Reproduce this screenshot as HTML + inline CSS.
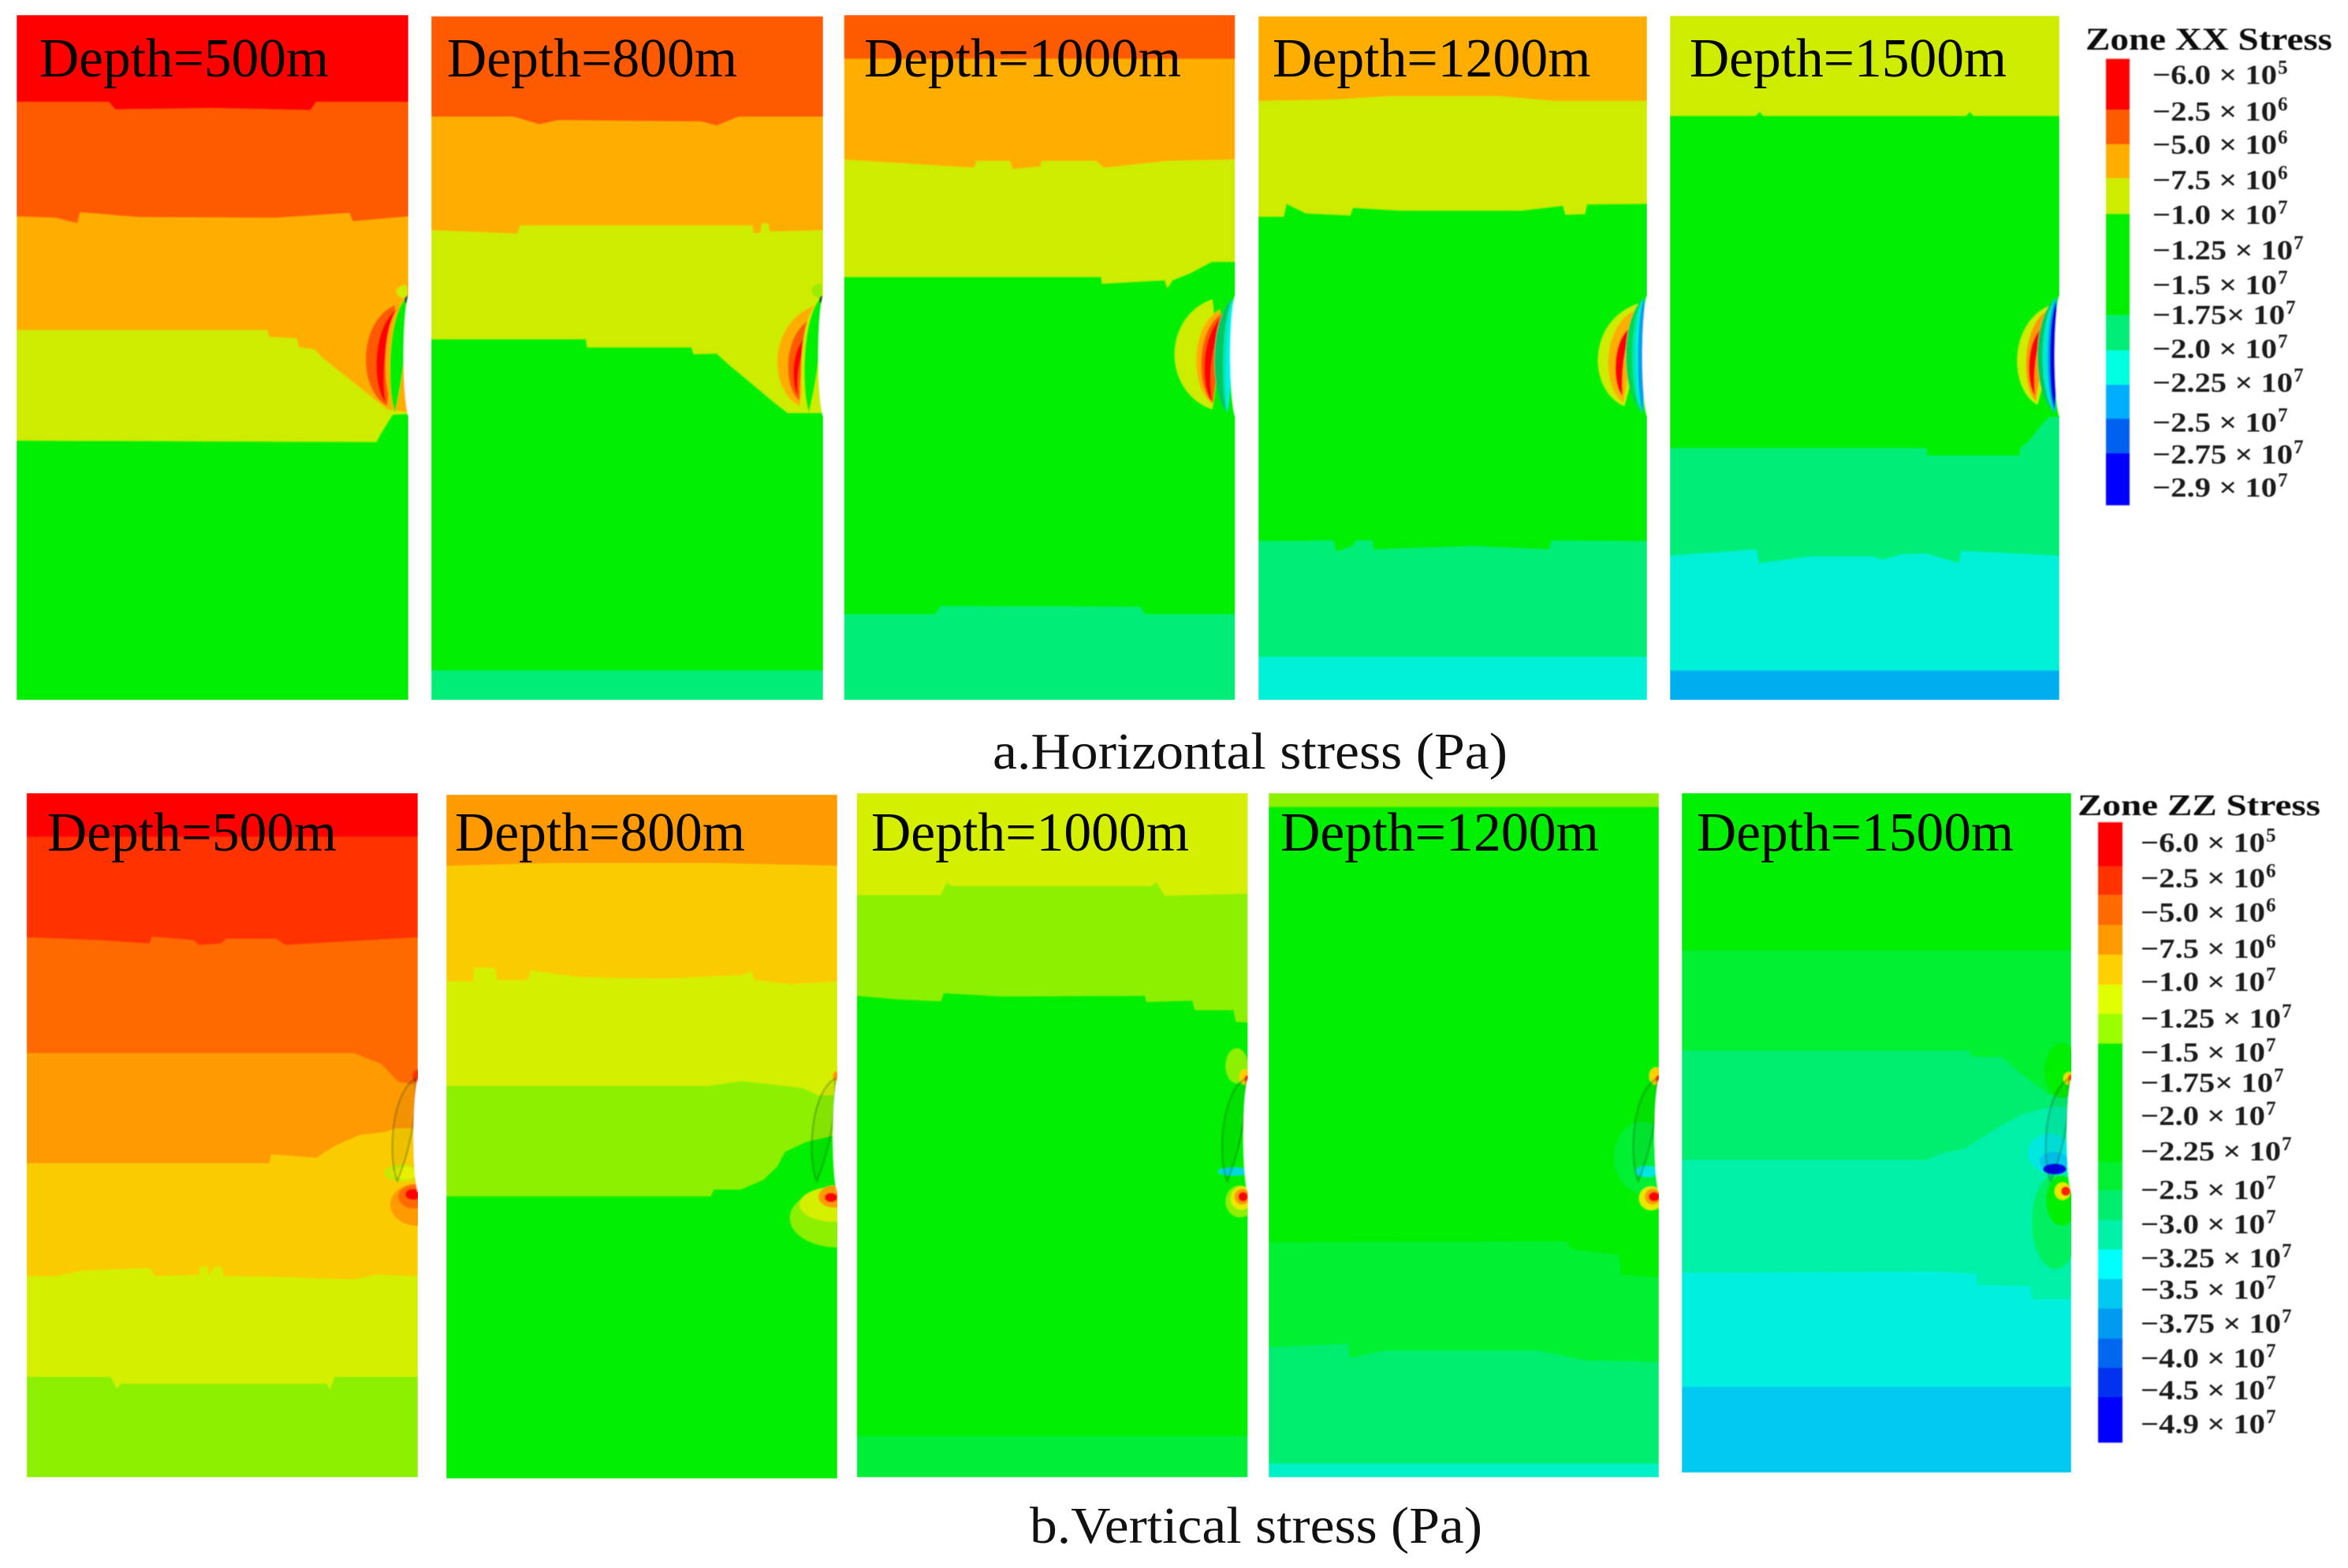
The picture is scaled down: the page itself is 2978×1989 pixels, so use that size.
<!DOCTYPE html>
<html lang="en">
<head>
<meta charset="utf-8">
<title>Horizontal and vertical stress contours by depth</title>
<style>
html,body{margin:0;padding:0;background:#fff;}
svg{display:block;font-family:"Liberation Serif",serif;}
</style>
</head>
<body>
<svg id="figure" xmlns="http://www.w3.org/2000/svg" width="2978" height="1989" viewBox="0 0 2978 1989">
<defs>
<filter id="soft" x="-2%" y="-2%" width="104%" height="104%"><feGaussianBlur stdDeviation="0.9"/></filter>
<filter id="softText" x="-2%" y="-10%" width="104%" height="120%"><feGaussianBlur stdDeviation="0.45"/></filter>
</defs>
<text x="1259" y="975" font-size="66" textLength="653" lengthAdjust="spacingAndGlyphs" fill="#111">a.Horizontal stress (Pa)</text>
<text x="1306" y="1957" font-size="66" textLength="574" lengthAdjust="spacingAndGlyphs" fill="#111">b.Vertical stress (Pa)</text>
</svg>
<script>
// ---------- Colour scales ----------
const xxColors = ['#ff0000','#ff5a00','#ffae00','#cdec00','#00ee00','#00ee00','#00ee00','#00ee78','#00f0d8','#00aeef','#0060f0','#0000ff'];
const zzColors = ['#ff0000','#ff3300','#ff6a00','#ff9a00','#facc00','#d4ef00','#8cf000','#00ee00','#00ee00','#00ee00','#00ee00','#00f030','#00ee70','#00f0a8','#00f0e8','#00c8f0','#009af0','#0068f0','#0030f0','#0000ff'];

// ---------- Legend tick labels ----------
const xxTickText = ['−6.0 × 10','−2.5 × 10','−5.0 × 10','−7.5 × 10','−1.0 × 10','−1.25 × 10','−1.5 × 10','−1.75× 10','−2.0 × 10','−2.25 × 10','−2.5 × 10','−2.75 × 10','−2.9 × 10'];
const xxTickExp = ['5','6','6','6','7','7','7','7','7','7','7','7','7'];
const zzTickText = ['−6.0 × 10','−2.5 × 10','−5.0 × 10','−7.5 × 10','−1.0 × 10','−1.25 × 10','−1.5 × 10','−1.75× 10','−2.0 × 10','−2.25 × 10','−2.5 × 10','−3.0 × 10','−3.25 × 10','−3.5 × 10','−3.75 × 10','−4.0 × 10','−4.5 × 10','−4.9 × 10'];
const zzTickExp = ['5','6','6','6','7','7','7','7','7','7','7','7','7','7','7','7','7','7'];

// ---------- Depth categories ----------
const depthLabels = ['Depth=500m','Depth=800m','Depth=1000m','Depth=1200m','Depth=1500m'];

// ---------- Stress bands, top to bottom, per depth ----------
const xxBands500 = ['#ff0000','#ff5a00','#ffae00','#cdec00','#00ee00'];
const xxBands800 = ['#ff5a00','#ffae00','#cdec00','#00ee00','#00ee78'];
const xxBands1000 = ['#ff5a00','#ffae00','#cdec00','#00ee00','#00ee78'];
const xxBands1200 = ['#ffae00','#cdec00','#00ee00','#00ee78','#00f0d8'];
const xxBands1500 = ['#cdec00','#00ee00','#00ee78','#00f0d8','#00aeef'];
const zzBands500 = ['#ff0000','#ff3300','#ff6a00','#ff9a00','#facc00','#d4ef00','#8cf000'];
const zzBands800 = ['#ff9a00','#facc00','#d4ef00','#8cf000','#00ee00'];
const zzBands1000 = ['#d4ef00','#8cf000','#00ee00','#00ee38'];
const zzBands1200 = ['#8cf000','#00ee00','#00f030','#00ee70','#00f0c8'];
const zzBands1500 = ['#00ee00','#00f030','#00ee70','#00f0a8','#00f0e0','#00c8f0'];

// ---------- Contours as [width %, depth %] between adjacent bands ----------
const xxContours500 = [
 [[0,12.7],[23.5,12.7],[25.2,13.8],[50,13.6],[75,13.9],[76.5,12.7],[100,12.7]],
 [[0,29.4],[10,29.6],[15.5,30.4],[16.2,28.8],[31,29.5],[66,29.6],[85,28.9],[85.8,30.1],[100,29.4]],
 [[0,46],[64,46],[64.4,47],[71.5,47.2],[72,48.5],[76,48.8],[78,50],[94.6,57.6],[100,58]],
 [[0,62.1],[91.8,62.3],[93,61],[96,58.3],[100,58.2]]
];
const xxContours800 = [
 [[0,14.7],[21,14.7],[27.6,15.8],[32.5,15.2],[69,15.4],[72.8,16],[78.4,14.7],[100,14.7]],
 [[0,31.3],[22,31.8],[22.6,30.6],[82,30.6],[82.2,31.7],[84,31.7],[84.4,30.3],[86,30.3],[86.4,31.5],[100,31.3]],
 [[0,47.2],[39.5,47.2],[39.8,48.4],[66.4,48.4],[67,49.4],[72.8,49.3],[76.3,51.1],[82,53.8],[87.6,56.5],[91,58],[100,58]],
 [[0,95.7],[100,95.7]]
];
const xxContours1000 = [
 [[0,6.4],[100,6.4]],
 [[0,21.1],[33.2,22.3],[33.9,21.3],[42.4,21.3],[43.1,22.5],[50.2,22.1],[50.5,21.3],[64.4,21.3],[66.5,22.3],[82.7,21.3],[100,21.1]],
 [[0,38.2],[65.8,38.2],[66,39.2],[82,38.7],[82.7,39.8],[84,38.7],[88.4,37.7],[94,36],[100,36]],
 [[0,87.5],[23.3,87.5],[24.7,86.3],[75.7,86.4],[77,87.5],[100,87.5]]
];
const xxContours1200 = [
 [[0,12.4],[19,12.2],[33.5,11.7],[62,11.7],[76,12.4],[100,12.4]],
 [[0,29.3],[6.5,29.3],[7.2,27.4],[12.2,28.8],[23.6,29.1],[24.3,28],[36.4,28.4],[67.7,28.4],[78.4,27.7],[79,29],[84,28.9],[84.5,27.5],[100,27.4]],
 [[0,76.8],[19.3,76.7],[20,78.3],[24.3,77.5],[25,76.7],[29.3,76.7],[29.6,78],[55,77.5],[74.8,78],[75.5,76.7],[100,76.8]],
 [[0,93.7],[100,93.7]]
];
const xxContours1500 = [
 [[0,14.6],[22,14.6],[23,14],[24,14.6],[76,14.6],[77,14],[78,14.6],[100,14.6]],
 [[0,63.2],[65.9,63.2],[66,64.3],[89.8,64.3],[90,63.2],[92.3,62.1],[95.2,60],[97.3,58.7],[100,58.7]],
 [[0,78.9],[22.2,78],[22.9,80],[36.5,79],[51.6,79],[54.5,79.5],[59.6,78.7],[65.9,78.6],[74.2,80],[74.7,78.2],[100,78.9]],
 [[0,95.7],[100,95.7]]
];
const zzContours500 = [
 [[0,6.4],[100,6.4]],
 [[0,21.1],[18.6,21.5],[31.4,22],[32,21],[42.7,21.5],[44,22.2],[49.7,22],[51,21.3],[63.8,21.3],[66.2,22.2],[78,21.8],[100,21.1]],
 [[0,38],[83.6,38],[90.7,39.6],[95,42.2],[99,42.6],[100,41]],
 [[0,54.1],[62,54.1],[62.5,52.8],[74,53.3],[79,51.5],[85,50],[92,49.5],[94,49],[100,49]],
 [[0,70.6],[7.3,70.6],[14.4,69.8],[31.4,69.4],[32.8,70.6],[44.1,70.4],[44.4,69.2],[46.2,69.2],[46.6,70.6],[48,69.2],[49.7,69.2],[50.4,70.6],[63.8,70.7],[83.6,71.1],[89.2,70.4],[100,70.6]],
 [[0,85.3],[21.5,85.3],[23,87],[24.3,86.3],[76.6,86.3],[77.6,87.1],[78.7,85.3],[100,85.3]]
];
const zzContours800 = [
 [[0,10.4],[27,10],[69,10],[100,10.4]],
 [[0,27.3],[6.8,27.3],[7.2,25.3],[12.4,25.3],[13,27.1],[20.9,27.1],[21.6,25.7],[34.3,26.7],[55.5,26.9],[75.3,26.4],[78,25.8],[78.8,27.1],[88,27.7],[100,27.3]],
 [[0,42.6],[67,42.6],[75.3,41.9],[84,42.4],[91.1,42.9],[95.3,44],[100,43.9]],
 [[0,58.7],[67.6,58.7],[68.4,57.7],[75.3,57.7],[81,56.3],[84.5,54.4],[86.6,52.2],[92.2,50.7],[100,49.7]]
];
const zzContours1000 = [
 [[0,14.9],[21.5,14.9],[23,13],[24.3,13.6],[75.2,13.6],[76.6,13],[78.8,15],[100,14.7]],
 [[0,29.6],[10.2,30.1],[21.5,30.4],[22.2,29.2],[37,29.7],[73.8,29.6],[74,30.5],[85.8,30.3],[86.5,31.7],[96.4,31.7],[97,33.4],[100,33.5]],
 [[0,94],[100,94]]
];
const zzContours1200 = [
 [[0,2],[100,2]],
 [[0,65.7],[76,65.5],[78,66.7],[89.7,67.5],[90.4,70.4],[100,70.8]],
 [[0,81],[20.3,80.5],[20.7,82.6],[29.5,81.5],[69.5,81.5],[80.9,82.9],[100,83.2]],
 [[0,98],[100,98]]
];
const zzContours1500 = [
 [[0,23.2],[100,23.2]],
 [[0,37.9],[73.9,37.9],[74.2,38.8],[82.2,38.9],[86.6,41.1],[94.5,44.5],[100,44.5]],
 [[0,54],[62.7,54],[66.4,53.1],[72.8,52.3],[80,49.6],[87.3,47.3],[94.5,46.2],[100,46.2]],
 [[0,70.6],[12,70.6],[65.6,70.4],[75.7,70.8],[75.8,72.4],[89.5,72.6],[89.8,74.5],[100,74.5]],
 [[0,87.4],[100,87.4]]
];

// ---------- Crack-tip stress crescents: colour, top dx, top dy, bottom dx, bottom dy, outer bulge, inner bulge ----------
const xxCrack500 = [
 ['#cdec00',3,-12,3,6,28,0],
 ['#ff5a00',17,14,27,142,86,20],
 ['#ff0000',11,17,29,137,60,38],
 ['#ffae00',8,12,20,140,44,24],
 ['#00ee00',3,5,17,150,36,0],
 ['#005a30',1,2,3,12,8,0]
];
const xxCrack800 = [
 ['#9cec00',3,-14,3,6,26,0],
 ['#ffae00',9,14,30,142,96,20],
 ['#ff5a00',12,30,30,135,67,30],
 ['#ff0000',16,50,32,128,50,36],
 ['#cdec00',8,12,24,142,38,24],
 ['#00ee00',3,5,18,150,36,0],
 ['#005a30',1,2,3,12,8,0]
];
const xxCrack1000 = [
 ['#cdec00',29,7,29,146,124,20],
 ['#ffae00',19,20,28,140,75,20],
 ['#ff5a00',15,24,28,138,64,20],
 ['#ff0000',12,26,29,137,56,38],
 ['#00c860',3,6,10,150,46,0],
 ['#00e8b0',3,6,10,150,24,0],
 ['#00f0f0',3,6,10,150,16,0]
];
const xxCrack1200 = [
 ['#cdec00',10,12,29,142,104,10],
 ['#ffae00',14,20,30,138,76,20],
 ['#ff0000',20,42,31,129,54,34],
 ['#00d850',4,5,6,150,49,0],
 ['#00e8b0',4,5,6,150,33,0],
 ['#00f0e8',4,5,6,150,24,0],
 ['#00a0f0',4,5,6,150,18,0]
];
const xxCrack1500 = [
 ['#cdec00',10,14,28,140,87,10],
 ['#ff9800',14,20,30,136,62,20],
 ['#ff0000',20,42,31,128,51,35],
 ['#00c858',4,5,6,150,51,0],
 ['#00e8d0',4,5,6,150,38,0],
 ['#00a0f0',4,5,6,150,25,0],
 ['#0000e0',4,10,6,145,19,0]
];

// ---------- Vertical-stress spots near the crack: colour, dx, dy, rx, ry ----------
const zzSpots500 = [
 ['#ff3300',1,-3,6,8],
 ['#c8e800',21,120,22,11],
 ['#e8f000',16,120,16,8],
 ['#ff9a00',0,160,35,27],
 ['#ff6a00',5,150,20,15],
 ['#ff0000',6,147,10,7]
];
const zzSpots800 = [
 ['#d4ef00',3,-6,12,12],
 ['#ff9a00',1,-3,5,6],
 ['#8cf000',0,177,60,37],
 ['#d4ef00',3,160,45,22],
 ['#ff9a00',4,150,20,14],
 ['#ff0000',8,151,8,6]
];
const zzSpots1000 = [
 ['#8cf000',14,-16,14,22],
 ['#ffd000',3,-2,8,10],
 ['#ff3000',1,0,3,4],
 ['#00d8e0',18,118,20,5],
 ['#8cf000',10,156,18,20],
 ['#e8e800',8,152,14,15],
 ['#ff9a00',7,150,10,10],
 ['#ff0000',6,150,6,6]
];
const zzSpots1200 = [
 ['#00f030',22,100,35,45],
 ['#ffd000',4,-3,8,11],
 ['#ff3000',1,0,3,4],
 ['#00e8e0',15,118,15,7],
 ['#e8e800',10,152,15,15],
 ['#ff9a00',8,150,10,10],
 ['#ff0000',6,150,7,6]
];
const zzSpots1500 = [
 ['#00ee00',12,-10,22,35],
 ['#e8e000',3,0,7,8],
 ['#ff5000',1,-1,3,4],
 ['#00e8e0',27,95,28,25],
 ['#00c8f0',22,105,18,12],
 ['#0000ee',21,115,15,7],
 ['#00f060',20,182,30,60],
 ['#00ee00',12,155,20,32],
 ['#e8e800',11,143,10,11],
 ['#ff2000',7,143,6,6]
];

// ---------- Layout (not data) ----------
const topFrame = [[21,518],[547,1044],[1070.5,1566.5],[1596,2089],[2118,2612]];
const topEdge = [[19,888],[20.5,888],[19,888],[20.5,888],[20,888]];
const botFrame = [[33.7,530],[566,1062],[1086.7,1582.6],[1609,2104],[2133,2627]];
const botEdge = [[1006,1874],[1008,1875.6],[1006,1874],[1006,1874],[1006,1868]];
const topTextSpan = [[50,417],[567,935],[1096,1498],[1614,2017.5],[2143,2545]];
const botTextSpan = [[60,427],[577,945],[1105,1508],[1624,2028],[2152,2554]];
const xxBarCuts = [74.6,139.6,183,226,271,400,444.5,488,531,574.6,641];
const xxBarColors = ['#ff0000','#ff5a00','#ffae00','#cdec00','#00ee00','#00ee78','#00ffe0','#00aeff','#0060f0','#0000ff'];
const zzBarCuts = [1043,1099,1135.4,1173.6,1211,1249,1286,1323.4,1474,1510,1548,1585,1622.5,1660,1698,1735,1772,1830];
const zzBarColors = ['#ff0000','#ff3300','#ff6a00','#ff9a00','#ffd000','#e0ff00','#9cff00','#00ee00','#00f030','#00ee70','#00f0a8','#00ffff','#00c8f0','#009af0','#0068f0','#0030f0','#0000ff'];
const xxTickLine = [94.5,141,183,228,272,317,361,399,442,485,535.5,576,618];
const zzTickLine = [1068.7,1113.6,1156.8,1202.8,1244.9,1291.4,1334.7,1372.8,1414.9,1459.8,1509.2,1552.4,1595.6,1635.5,1678.6,1722.4,1762.8,1806];

// ---------- Drawing ----------
const NS = 'http://www.w3.org/2000/svg';
const svg = document.getElementById('figure');
function make(tag, attrs, parent) {
  const node = document.createElementNS(NS, tag);
  for (const k in attrs) node.setAttribute(k, attrs[k]);
  (parent || svg).appendChild(node);
  return node;
}
function xAxis(frame, pct) { return frame[0] + (frame[1] - frame[0]) * pct / 100; }
function yAxis(edge, pct) { return edge[0] + (edge[1] - edge[0]) * pct / 100; }

function drawBands(group, frame, edge, bands, contours) {
  const base = make('rect', {x:frame[0], y:edge[0], width:frame[1]-frame[0], height:edge[1]-edge[0], fill:bands[bands.length-1]}, group);
  
  
  for (let i = contours.length - 1; i >= 0; i--) {
    const line = contours[i].map(function (p) { return xAxis(frame, p[0]) + ',' + yAxis(edge, p[1]); });
    const pts = [frame[0] + ',' + edge[0]].concat(line, [frame[1] + ',' + edge[0]]);
    const band = make('polygon', {points:pts.join(' '), fill:bands[i]}, group);
    
    
  }
}
function lensPath(xr, y0, topDx, topDy, botDx, botDy, outer, inner) {
  const tx = xr - topDx, ty = y0 + topDy, bx = xr - botDx, by = y0 + botDy, my = (ty + by) / 2, h = by - ty;
  const midDx = (topDx + botDx) / 4 + outer / 2;
  const c = (midDx - (topDx + botDx) / 8) * 4 / 3;
  return 'M' + tx + ' ' + ty + ' C' + (xr - c) + ' ' + (ty + h * 0.16) + ' ' + (xr - c) + ' ' + (by - h * 0.16) + ' ' + bx + ' ' + by + ' Q' + (xr - inner) + ' ' + my + ' ' + tx + ' ' + ty + ' Z';
}
function drawNotch(group, xr, y0, len, bulge) {
  const notch = make('path', {d:lensPath(xr, y0, 0, 0, 0, len, bulge, -6), fill:'#fff'}, group);
  
  
}
function drawTopPanel(i, bands, contours, crack) {
  const frame = topFrame[i], edge = topEdge[i];
  const clip = make('clipPath', {id:'clipTop' + i});
  make('rect', {x:frame[0], y:edge[0], width:frame[1]-frame[0], height:edge[1]-edge[0]}, clip);
  const group = make('g', {'clip-path':'url(#clipTop' + i + ')', filter:'url(#soft)'});
  
  
  drawBands(group, frame, edge, bands, contours);
  crack.forEach(function (c) {
    const lens = make('path', {d:lensPath(frame[1], 373, c[1], c[2], c[3], c[4], c[5], c[6]), fill:c[0]}, group);
    
    
  });
  drawNotch(group, frame[1], 375, 153, 12);
  const span = topTextSpan[i];
  const label = make('text', {x:span[0], y:97, 'font-size':70, textLength:span[1]-span[0], lengthAdjust:'spacingAndGlyphs', fill:'#000'});
  
  
  label.textContent = depthLabels[i];
}
function drawBottomPanel(i, bands, contours, spots) {
  const frame = botFrame[i], edge = botEdge[i];
  const clip = make('clipPath', {id:'clipBot' + i});
  make('rect', {x:frame[0], y:edge[0], width:frame[1]-frame[0], height:edge[1]-edge[0]}, clip);
  const group = make('g', {'clip-path':'url(#clipBot' + i + ')', filter:'url(#soft)'});
  
  
  drawBands(group, frame, edge, bands, contours);
  spots.forEach(function (s) {
    const spot = make('ellipse', {cx:frame[1]-s[1], cy:1368+s[2], rx:s[3], ry:s[4], fill:s[0]}, group);
    
    
  });
  const shade = make('path', {d:lensPath(frame[1], 1368, 3, 0, 26, 130, 48, 0), fill:'rgba(0,0,0,0.05)', stroke:'rgba(0,50,20,0.26)', 'stroke-width':2.5}, group);
  
  
  drawNotch(group, frame[1], 1368, 145, 11);
  const span = botTextSpan[i];
  const label = make('text', {x:span[0], y:1079, 'font-size':70, textLength:span[1]-span[0], lengthAdjust:'spacingAndGlyphs', fill:'#000'});
  
  
  label.textContent = depthLabels[i];
}
function drawLegend(name, title, titleX, titleW, titleY, titleSize, barX, barW, cuts, colors, tickX, tickLine, tickText, tickExp) {
  const legend = make('g', {});
  
  
  const head = make('text', {x:titleX, y:titleY, 'font-size':titleSize, 'font-weight':'bold', textLength:titleW, lengthAdjust:'spacingAndGlyphs', fill:'#111', filter:'url(#softText)'}, legend);
  
  
  head.textContent = title;
  const bar = make('g', {filter:'url(#soft)'}, legend);
  
  
  colors.forEach(function (c, i) {
    const seg = make('rect', {x:barX, y:cuts[i], width:barW, height:cuts[i+1]-cuts[i], fill:c}, bar);
    
    
  });
  tickText.forEach(function (t, i) {
    const len = t.indexOf('.25') > 0 || t.indexOf('.75 ') > 0 ? 178 : (t.indexOf('.75×') > 0 ? 168 : 158);
    const tick = make('text', {x:tickX, y:tickLine[i]+12, 'font-size':35, 'font-weight':'bold', textLength:len, lengthAdjust:'spacingAndGlyphs', fill:'#1a1a1a', filter:'url(#softText)'}, legend);
    
    
    tick.textContent = t;
    const exp = make('text', {x:tickX+len+1, y:tickLine[i]-1, 'font-size':25, 'font-weight':'bold', fill:'#1a1a1a', filter:'url(#softText)'}, legend);
    
    
    exp.textContent = tickExp[i];
  });
}

drawTopPanel(0, xxBands500, xxContours500, xxCrack500);
drawTopPanel(1, xxBands800, xxContours800, xxCrack800);
drawTopPanel(2, xxBands1000, xxContours1000, xxCrack1000);
drawTopPanel(3, xxBands1200, xxContours1200, xxCrack1200);
drawTopPanel(4, xxBands1500, xxContours1500, xxCrack1500);
drawBottomPanel(0, zzBands500, zzContours500, zzSpots500);
drawBottomPanel(1, zzBands800, zzContours800, zzSpots800);
drawBottomPanel(2, zzBands1000, zzContours1000, zzSpots1000);
drawBottomPanel(3, zzBands1200, zzContours1200, zzSpots1200);
drawBottomPanel(4, zzBands1500, zzContours1500, zzSpots1500);
drawLegend('zone-xx-legend', 'Zone XX Stress', 2645, 313, 63, 40, 2671, 30, xxBarCuts, xxBarColors, 2730, xxTickLine, xxTickText, xxTickExp);
drawLegend('zone-zz-legend', 'Zone ZZ Stress', 2635, 308, 1034, 38, 2661, 31, zzBarCuts, zzBarColors, 2715, zzTickLine, zzTickText, zzTickExp);
</script>
</body>
</html>
